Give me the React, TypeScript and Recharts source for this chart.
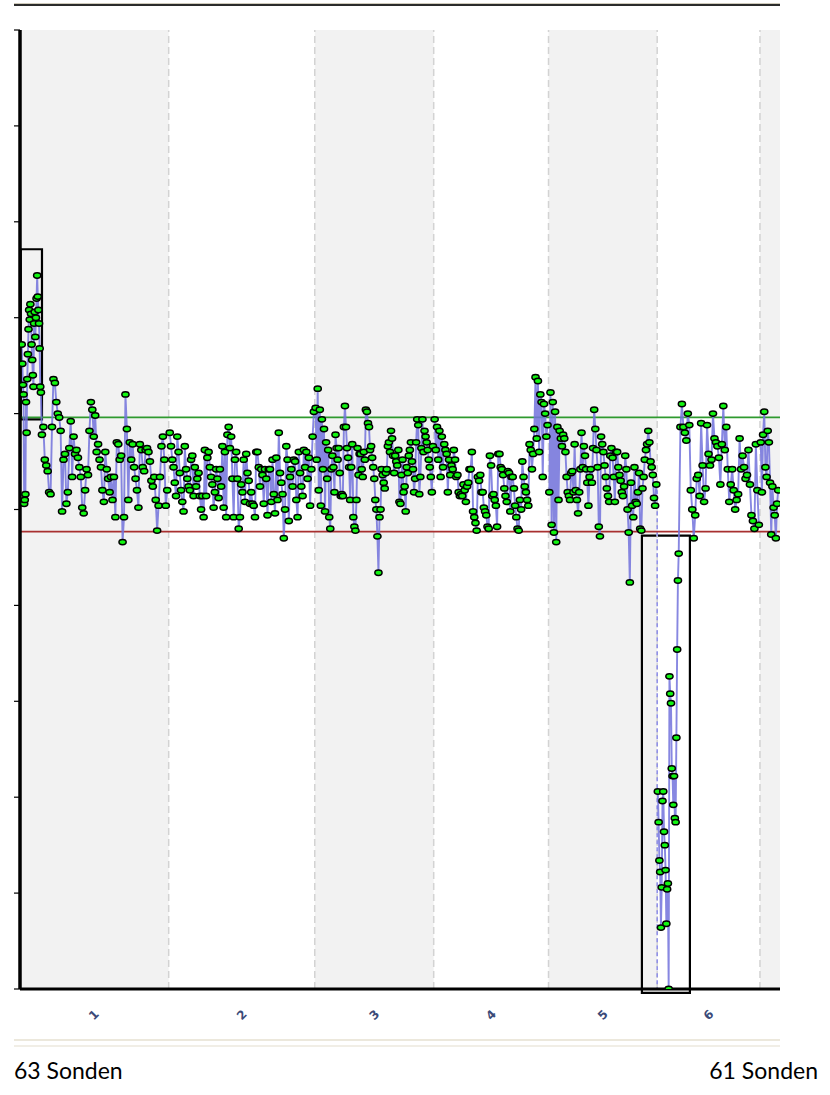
import React from "react";
import { LineChart, Line, XAxis, YAxis, ReferenceArea, ReferenceLine } from "recharts";

// genome layout (Mb, cumulative)
const chromBounds = [0, 249.25, 492.45, 690.47, 881.62, 1062.53, 1233.64];
const chromNames = ["1", "2", "3", "4", "5", "6"];
const chromCenters = [124.6, 370.9, 591.5, 786.0, 972.1, 1148.1];
const yTicks = [-2.5, -2, -1.5, -1, -0.5, 0, 0.5, 1, 1.5, 2, 2.5];
const gainLine = 0.48;
const lossLine = -0.115;
const X_MIN = 1.7;
const X_MAX = 1267;

// log2 ratios of the probes
const chr1pGain = [0.86, 0.76, 0.65, 0.6, 0.03, 0.05, 0.08, 0.56, 0.4, 0.68, 0.81, 0.94, 1.04, 0.99, 1.07, 1.02, 0.86, 0.78, 0.7, 0.64, 0.97, 1.03, 0.9, 1.0, 1.1, 1.22, 1.11, 1.04, 0.97, 0.84, 0.64, 0.61];
const chr1Rest = [0.39, 0.43, 0.26, 0.23, 0.2, 0.09, 0.08, 0.43, 0.68, 0.66, 0.56, 0.5, 0.48, 0.41, -0.01, 0.26, 0.29, 0.03, 0.09, 0.32, 0.46, 0.17, 0.38, 0.29,
  0.31, 0.27, 0.22, 0.17, 0.01, -0.02, 0.1, 0.21, 0.18, 0.41, 0.56, 0.52, 0.38, 0.49, 0.3, 0.34, 0.26, 0.22, 0.1, 0.04, 0.3, 0.21, 0.16,
  0.09, 0.17, 0.05, 0.17, -0.04, 0.35, 0.34, 0.26, 0.28, -0.17, -0.04, 0.6, 0.42, 0.05, 0.35, 0.26, 0.34, 0.22, 0.16, 0.1, 0.01,
  0.34, 0.31, 0.22, 0.2, 0.31, 0.32, 0.3, 0.25, 0.15, 0.12, 0.17, 0.05, -0.11, 0.02, 0.17, 0.33, 0.38, 0.26, 0.02, 0.1];
const chr2 = [0.4, 0.33, 0.26, 0.22, 0.14, 0.07, 0.38, 0.3, 0.19, 0.1, 0.04, -0.01, 0.33, 0.21, 0.16, 0.12, 0.1, 0.26, 0.28, 0.07, 0.22, 0.12, 0.16, 0.19,
  0.07, 0.0, 0.07, -0.04, 0.31, 0.07, 0.27, 0.3, 0.22, 0.17, 0.13, 0.01, 0.09, 0.21, 0.16, 0.06, 0.21, 0.12,
  0.33, 0.01, 0.3, -0.04, 0.39, 0.43, 0.32, 0.38, 0.16, -0.04, 0.26, 0.3, 0.16, -0.1, -0.04, 0.13, 0.09, 0.26, 0.04, 0.29, 0.19, 0.15, 0.03,
  0.09, 0.03, 0.02, -0.04, 0.3, 0.3, 0.22, 0.12, 0.21, 0.18, 0.03, 0.21, 0.16, -0.03, 0.21, 0.21, 0.04, 0.26,
  0.08, -0.02, 0.27, 0.05, 0.4, 0.19, 0.14, 0.08, -0.15, 0.0, 0.33, 0.26, -0.06, 0.17, 0.21, 0.12, 0.26, 0.25, 0.05, -0.04,
  0.3, 0.19, 0.12, 0.07, 0.31, 0.22, 0.3, 0.16, 0.27, 0.02, 0.21, 0.38, 0.51];
const chr3 = [0.53, 0.26, 0.63, 0.1, 0.52, 0.02, 0.47, 0.21, 0.42, -0.01, 0.35, 0.16, 0.31, -0.04, -0.1, 0.21, 0.28, 0.22, 0.09, 0.39, 0.32, 0.26, 0.32, 0.19, 0.07, 0.08, 0.07,
  0.43, 0.54, 0.43, 0.32, 0.27, 0.22, 0.05, 0.22, 0.34, -0.04, -0.09, -0.11, 0.05, 0.32, 0.18, 0.29,
  0.29, 0.21, 0.17, 0.3, 0.26, 0.52, 0.51, 0.45, 0.43, 0.31, 0.33, 0.27, 0.22, 0.16, 0.05, 0.0, -0.14, -0.33, -0.04, 0.0, 0.21, 0.18, 0.14, 0.11, 0.19, 0.21,
  0.33, 0.35, 0.3, 0.41, 0.37, 0.28, 0.19, 0.28, 0.25, 0.23, 0.31, 0.04, 0.03, 0.18, 0.26, 0.09, 0.12, -0.01, 0.22, 0.19, 0.28, 0.31, 0.35, 0.25, 0.21, 0.09, 0.16,
  0.35, 0.47, 0.44, 0.08, 0.17, 0.32, 0.47, 0.3, 0.41, 0.38, 0.35, 0.31, 0.26, 0.22, 0.17, 0.09, 0.33];
const chr4 = [0.47, 0.31, 0.43, 0.26, 0.41, 0.17, 0.38, 0.22, 0.34, 0.31, 0.29, 0.09, 0.26, 0.18, 0.23, 0.21, 0.31, 0.26, 0.17, 0.18, 0.09, 0.07, 0.08, 0.07,
  0.13, 0.1, 0.04, 0.12, 0.14, 0.21, 0.21, 0.3, -0.01, -0.04, -0.07, -0.11, 0.17, 0.15, 0.18, 0.09, 0.09, 0.01, -0.01, -0.03, -0.09, -0.1, 0.28, 0.23, 0.07, 0.08, 0.05, 0.02, -0.09,
  0.29, 0.29, 0.22, 0.21, 0.18, 0.11, 0.07, 0.04, 0.2, 0.19, -0.01, 0.17, 0.17, 0.11, 0.02, -0.04, -0.1, -0.11, 0.05, 0.0, 0.25, 0.17, 0.12, 0.09, 0.05, 0.02, 0.34, 0.31, 0.21, 0.29,
  0.42, 0.69, 0.37, 0.67, 0.3, 0.6, 0.56, 0.17, 0.55, 0.5, 0.38, 0.44];
const chr5 = [0.09, 0.61, -0.08, 0.56, -0.12, 0.51, -0.17, 0.43, 0.05, 0.41, 0.37, 0.33, 0.39, 0.37, 0.3, 0.17, 0.09, 0.07, 0.05, 0.19, 0.2, 0.09, 0.34, 0.1, 0.05, -0.02, 0.09, 0.21, 0.4, 0.22,
  0.33, 0.28, 0.21, 0.14, 0.02, 0.17, 0.21, 0.14, 0.32, 0.52, 0.42, 0.31, 0.22, -0.09, -0.14, 0.38, 0.34, 0.3, 0.23, 0.17, 0.11, 0.07, 0.04, 0.28, 0.32, 0.27, 0.17, 0.04, 0.3, 0.3,
  0.22, 0.18, 0.15, 0.09, 0.07, 0.12, 0.28, 0.21, 0.0, -0.12, -0.38, 0.14, 0.02, -0.04, 0.22, 0.04, 0.03, 0.09, 0.19, -0.1, -0.11, 0.11, 0.17, 0.26, 0.31, 0.34, 0.41, 0.35, 0.25, 0.22,
  0.18, 0.06, 0.02, 0.13];
const chr6pLoss = [-1.47, -1.63, -1.83, -1.89, -2.18, -1.97, -1.52, -1.47, -1.68, -1.75, -1.88, -2.16, -1.98, -1.95, -2.5, -0.87, -0.96, -1.01, -1.35, -1.39, -1.54, -1.39, -1.61, -1.63,
  -1.19, -0.73, -0.37, -0.23];
const chr6Rest = [0.43, 0.55, 0.43, 0.4, 0.36, 0.5, 0.44, 0.1, 0.0, -0.15, -0.03, 0.16, 0.18, 0.07, 0.45, 0.23, 0.04, 0.11, 0.44, 0.29, 0.23, 0.26, 0.5, 0.37, 0.35, 0.33, 0.27,
  0.13, 0.34, 0.54, 0.31, 0.43, 0.21, 0.04, 0.13, 0.21, 0.1, 0.0, 0.05, 0.08, 0.37, 0.21, 0.28, 0.22, 0.16, 0.18, 0.31, 0.13, -0.03, -0.06, -0.1, 0.34, 0.1, -0.08];
const chr7Start = [0.35, 0.09, 0.39, 0.51, 0.22, 0.17, 0.41, 0.35, 0.14, -0.13, 0.12, 0.01, -0.03, -0.15, 0.03, 0.1];

type Segment = { from: number; to: number; values: number[] };

// spread the probes of a segment along its stretch of the genome
const toPoints = (segs: Segment[]) =>
  segs.flatMap((s) =>
    s.values.map((v, i) => ({
      x: s.from + ((i + 0.5) * (s.to - s.from)) / s.values.length,
      v,
    }))
  );

const series = [
  toPoints([{ from: 4, to: 37, values: chr1pGain }, { from: 37, to: 248, values: chr1Rest }]),
  toPoints([{ from: 250, to: 492, values: chr2 }]),
  toPoints([{ from: 493, to: 690, values: chr3 }]),
  toPoints([{ from: 691, to: 881, values: chr4 }]),
  toPoints([{ from: 882, to: 1062, values: chr5 }]),
  toPoints([{ from: 1063, to: 1099, values: chr6pLoss }, { from: 1100, to: 1233, values: chr6Rest }]),
  toPoints([{ from: 1234, to: 1265, values: chr7Start }]),
];

const ProbeDot = (props: any) => {
  const { cx, cy, index } = props;
  if (cx == null || cy == null) return <g key={index} />;
  return (
    <ellipse key={index} cx={cx} cy={cy} rx={3.6} ry={2.7} fill="#12f512" stroke="#000" strokeWidth={1.5} />
  );
};

const ChromTick = (props: any) => {
  const { x, y, index } = props;
  const ty = y + 24;
  return (
    <text
      x={x}
      y={ty}
      transform={`rotate(-45 ${x} ${ty})`}
      textAnchor="middle"
      dominantBaseline="central"
      fontSize={12}
      fontWeight="bold"
      fill="#3b4a78"
      fontFamily="DejaVu Sans, sans-serif"
    >
      {chromNames[index]}
    </text>
  );
};

const NoTick = () => <g />;

export default function App(): React.ReactElement {
  return (
    <div
      style={{
        position: "absolute",
        left: 0,
        top: 0,
        width: 830,
        height: 1095,
        background: "#fff",
        fontFamily: "Lato, 'Noto Sans', sans-serif",
      }}
    >
      <div style={{ position: "absolute", left: 14, top: 3, width: 766, height: 1, background: "#cfcabb" }} />
      <div style={{ position: "absolute", left: 14, top: 4, width: 766, height: 2, background: "#2b2b2b" }} />

      <div style={{ position: "absolute", left: 0, top: 0 }}>
        <LineChart width={830} height={1040} margin={{ top: 30, right: 50, bottom: 0, left: 19 }}>
          {[0, 2, 4, 6].map((c) => (
            <ReferenceArea
              key={`shade-${c}`}
              x1={c === 0 ? X_MIN : chromBounds[c]}
              x2={c === 6 ? X_MAX : chromBounds[c + 1]}
              fill="#f2f2f2"
              fillOpacity={1}
              stroke="none"
              ifOverflow="hidden"
            />
          ))}
          {chromBounds.slice(1).map((b) => (
            <ReferenceLine key={`b-${b}`} x={b} stroke="#d3d3d3" strokeWidth={1.5} strokeDasharray="7 4" />
          ))}
          <ReferenceLine
            segment={[{ x: 1062.53, y: 0.1 }, { x: 1062.53, y: -2.5 }]}
            stroke="#8c8ce8"
            strokeWidth={1.5}
            strokeDasharray="4 3"
          />
          <ReferenceLine y={gainLine} stroke="#2f9a2f" strokeWidth={1.8} />
          <ReferenceLine y={lossLine} stroke="#a83030" strokeWidth={1.8} />
          <XAxis
            type="number"
            dataKey="x"
            domain={[X_MIN, X_MAX]}
            allowDataOverflow
            ticks={chromCenters}
            interval={0}
            tick={<ChromTick />}
            tickLine={false}
            tickSize={0}
            height={51}
            axisLine={{ stroke: "#000", strokeWidth: 3 }}
          />
          <YAxis
            type="number"
            domain={[-2.5, 2.5]}
            allowDataOverflow
            ticks={yTicks}
            interval={0}
            width={1}
            tickSize={6}
            tick={NoTick}
            tickLine={{ stroke: "#000", strokeWidth: 1.2 }}
            axisLine={{ stroke: "#000", strokeWidth: 3.5 }}
          />
          {series.map((s, i) => (
            <Line
              key={`chr-${i}`}
              data={s}
              dataKey="v"
              type="linear"
              stroke="#7272dc"
              strokeOpacity={0.85}
              strokeWidth={1.9}
              dot={ProbeDot}
              activeDot={false}
              isAnimationActive={false}
            />
          ))}
          <ReferenceArea x1={3} x2={38.3} y1={0.47} y2={1.357} fill="none" stroke="#000" strokeWidth={2.2} ifOverflow="visible" />
          <ReferenceArea x1={1037.1} x2={1117} y1={-2.52} y2={-0.136} fill="none" stroke="#000" strokeWidth={2.2} ifOverflow="visible" />
        </LineChart>
      </div>

      <div style={{ position: "absolute", left: 14, top: 1039, width: 766, height: 2, background: "#ece8dc" }} />
      <div style={{ position: "absolute", left: 14, top: 1045, width: 766, height: 2, background: "#f1eee6" }} />

      <div style={{ position: "absolute", left: 14, top: 1058, fontSize: 23, lineHeight: "24px", color: "#000" }}>63 Sonden</div>
      <div style={{ position: "absolute", right: 12, top: 1058, fontSize: 23, lineHeight: "24px", color: "#000" }}>61 Sonden</div>
    </div>
  );
}
